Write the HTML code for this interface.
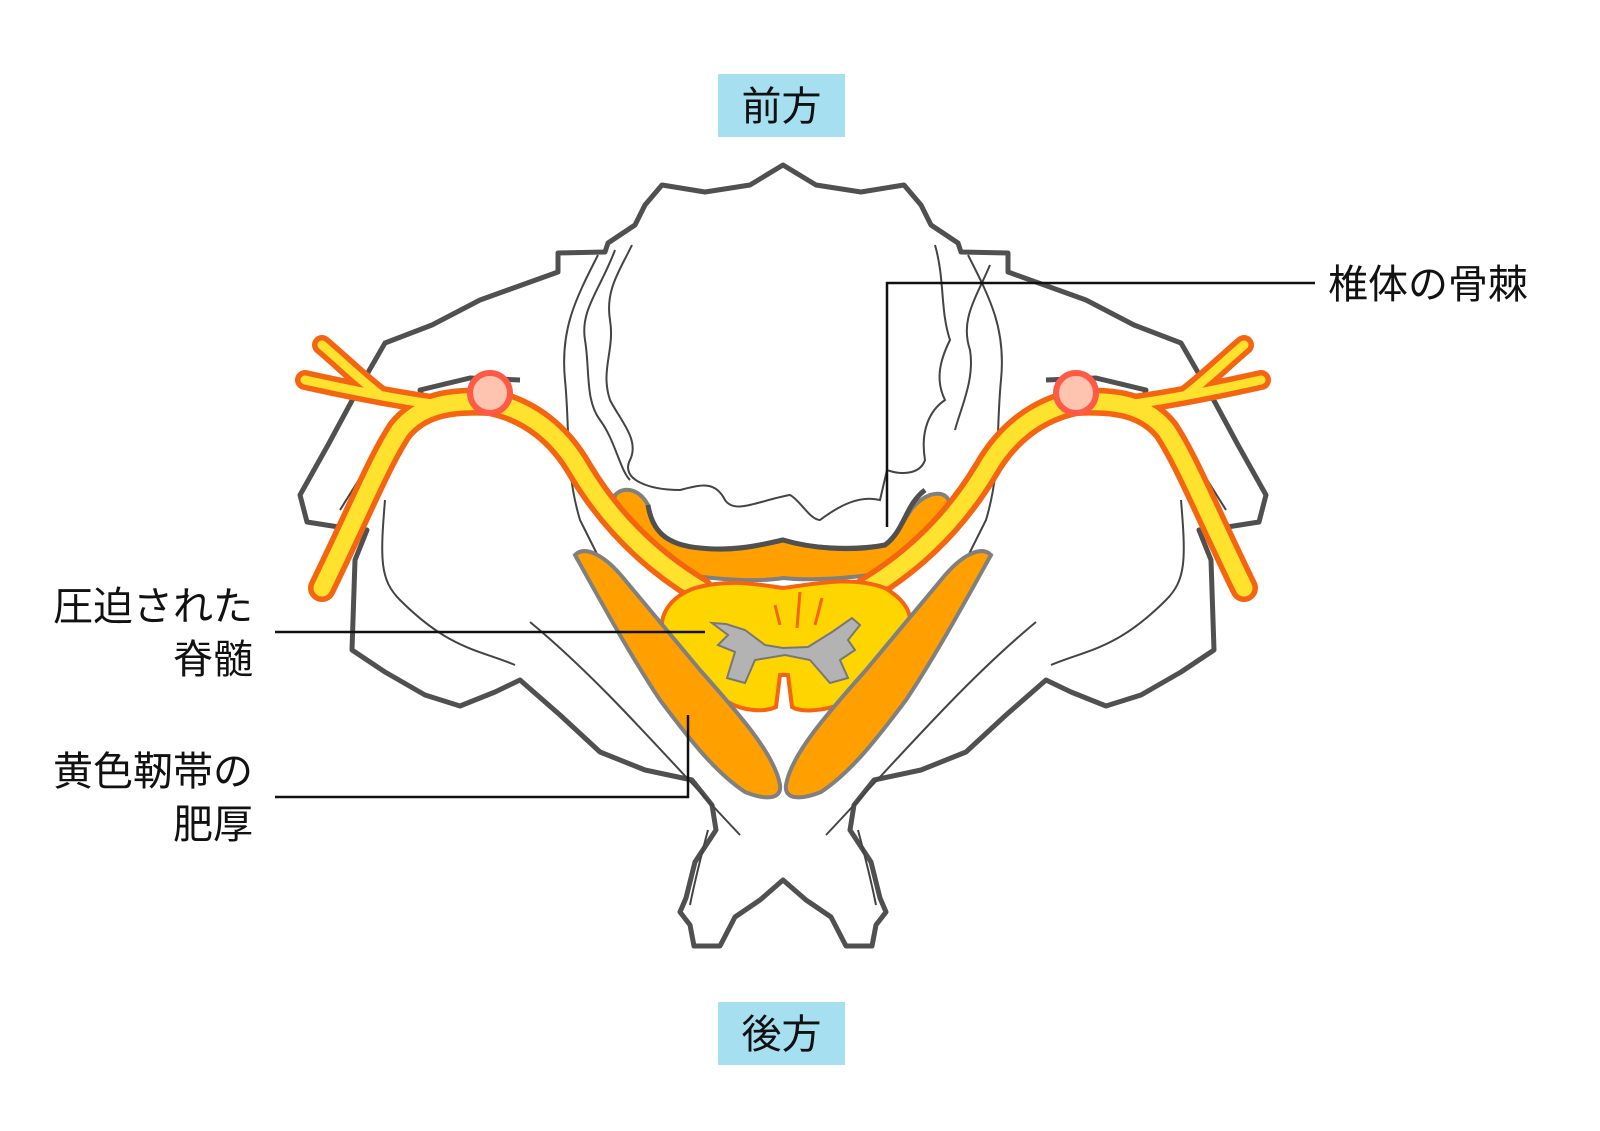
<!DOCTYPE html>
<html><head><meta charset="utf-8"><style>
html,body{margin:0;padding:0;background:#fff}
svg{display:block}
text{font-family:"Liberation Sans","Noto Sans CJK JP",sans-serif;fill:#111}
</style></head><body>
<svg width="1600" height="1131" viewBox="0 0 1600 1131" xmlns="http://www.w3.org/2000/svg">
<rect x="718" y="74" width="127" height="63" fill="#a6dff0"/>
<text x="781.5" y="120" font-size="40" text-anchor="middle">前方</text>
<rect x="718" y="1002" width="127" height="63" fill="#a6dff0"/>
<text x="781.5" y="1048" font-size="40" text-anchor="middle">後方</text>

<path d="M783,165 L750,185 L705,192 L662,185 L645,205 L635,225 L608,243 L605,252 L558,253 L558,272 L480,300 L432,325 L385,343 L355,395 L328,445 L300,495 L307,522 L345,528 L367,530 L355,560 L352,650 L385,672 L425,695 L460,706 L495,692 L520,680 L560,715 L600,752 L645,770 L692,780 L712,805 L716,830 L695,862 L686,898 L680,912 L690,925 L694,946 L720,946 L735,917 L760,900 L783,880 L806,900 L831,917 L846,946 L872,946 L876,925 L886,912 L880,898 L871,862 L850,830 L854,805 L874,780 L921,770 L966,752 L1006,715 L1046,680 L1071,692 L1106,706 L1141,695 L1181,672 L1214,650 L1211,560 L1199,530 L1221,528 L1259,522 L1266,495 L1238,445 L1211,395 L1181,343 L1134,325 L1086,300 L1008,272 L1008,253 L961,252 L958,243 L931,225 L921,205 L904,185 L861,192 L816,185 Z" fill="#fff" stroke="#505050" stroke-width="5" stroke-linejoin="round"/>
<path d="M520,380 L470,378 L420,390 L425,405 L460,410 L520,410" fill="none" stroke="#505050" stroke-width="5" stroke-linejoin="round"/>
<path d="M1046,380 L1096,378 L1146,390 L1141,405 L1106,410 L1046,410" fill="none" stroke="#505050" stroke-width="5" stroke-linejoin="round"/>
<g fill="none" stroke="#444" stroke-width="2">
<path d="M598,255 C575,300 560,330 565,380 C570,430 565,470 580,520 L600,560"/>
<path d="M968,255 C991,300 1006,330 1001,380 C996,430 1001,470 986,520 L966,560"/>
<path d="M385,500 C380,560 380,580 400,600 C450,650 480,650 515,665"/>
<path d="M1181,500 C1186,560 1186,580 1166,600 C1116,650 1086,650 1051,665"/>
<path d="M530,622 C600,680 660,750 740,835"/>
<path d="M1036,622 C966,680 906,750 826,835"/>
<path d="M708,830 C700,860 695,880 690,905"/>
<path d="M858,830 C866,860 871,880 876,905"/>
<path d="M365,470 L340,510"/>
<path d="M1201,470 L1226,510"/>
<path d="M632,245 C620,270 605,290 610,320 C615,350 600,370 610,400 C620,420 640,440 630,460 C620,480 650,490 680,490 C700,485 715,480 725,500 C735,515 760,500 790,495 C800,500 810,520 820,520 C840,505 860,495 880,500 L887,470 C900,475 920,475 925,460 C920,430 930,410 945,400 C935,380 940,360 950,340 C940,310 945,280 935,245"/>
<path d="M615,250 C600,290 580,310 585,340 C590,370 585,400 600,420 C615,440 620,470 630,480"/>
<path d="M990,265 C975,300 960,320 970,350 C975,380 960,410 955,430"/>
</g>

<path d="M615,495 C625,485 640,490 648,505 C652,530 665,545 700,548 C735,550 760,545 783,540 C810,548 850,550 885,545 C905,530 905,505 930,495 C945,490 955,500 945,515 C930,545 910,570 870,575 C830,580 800,580 783,578 C760,582 720,580 690,575 C655,565 620,540 612,515 Z" fill="#ffa000" stroke="#808080" stroke-width="4"/>
<path d="M648,505 C652,530 665,545 700,548 C735,552 760,545 783,540 C810,548 850,552 885,545 C905,530 905,505 925,490" fill="none" stroke="#505050" stroke-width="5"/>

<g fill="none" stroke-linecap="round" stroke-linejoin="round">
<path d="M700,590 C650,560 610,520 580,470 C560,435 530,410 490,402 C450,400 420,405 400,430 C380,460 360,510 322,588" stroke="#f56410" stroke-width="28"/>
<path d="M440,405 C400,400 350,390 305,380 M380,395 C360,380 340,360 322,345" stroke="#f56410" stroke-width="20"/>
<path d="M690,580 C660,560 630,530 600,500" stroke="#f56410" stroke-width="16"/>
<path d="M700,590 C650,560 610,520 580,470 C560,435 530,410 490,402 C450,400 420,405 400,430 C380,460 360,510 322,588" stroke="#ffe22e" stroke-width="17"/>
<path d="M440,405 C400,400 350,390 305,380 M380,395 C360,380 340,360 322,345" stroke="#ffe22e" stroke-width="9"/>
<circle cx="490" cy="393" r="20" fill="#ffc4b0" stroke="#ff5a45" stroke-width="6"/>
</g>
<g transform="translate(1566,0) scale(-1,1)" fill="none" stroke-linecap="round" stroke-linejoin="round">
<path d="M700,590 C650,560 610,520 580,470 C560,435 530,410 490,402 C450,400 420,405 400,430 C380,460 360,510 322,588" stroke="#f56410" stroke-width="28"/>
<path d="M440,405 C400,400 350,390 305,380 M380,395 C360,380 340,360 322,345" stroke="#f56410" stroke-width="20"/>
<path d="M690,580 C660,560 630,530 600,500" stroke="#f56410" stroke-width="16"/>
<path d="M700,590 C650,560 610,520 580,470 C560,435 530,410 490,402 C450,400 420,405 400,430 C380,460 360,510 322,588" stroke="#ffe22e" stroke-width="17"/>
<path d="M440,405 C400,400 350,390 305,380 M380,395 C360,380 340,360 322,345" stroke="#ffe22e" stroke-width="9"/>
<circle cx="490" cy="393" r="20" fill="#ffc4b0" stroke="#ff5a45" stroke-width="6"/>
</g>

<path d="M695,588 C730,578 760,585 783,588 C810,585 850,575 885,588 C905,600 915,615 908,632 C893,662 872,692 842,704 C820,712 800,712 792,707 L788,675 L780,675 L776,707 C765,712 745,712 728,702 C703,690 678,660 663,635 C658,615 670,597 695,588 Z" fill="#ffd500" stroke="#f56410" stroke-width="4"/>
<g stroke="#f56410" stroke-width="3" fill="none"><path d="M775,605 L780,625"/><path d="M800,592 L797,628"/><path d="M822,598 L815,625"/></g>
<path d="M726,624 L712,623 L728,635 L718,645 L735,652 L727,678 L745,683 L755,660 L785,655 L810,660 L830,683 L848,678 L840,660 L855,650 L848,640 L860,625 L852,618 L832,632 L808,647 L783,648 L765,645 L745,630 Z" fill="#b3b3b3" stroke="#777" stroke-width="2"/>

<path d="M575,555 C585,545 605,555 625,580 L700,670 C740,715 775,755 780,785 C782,800 765,800 745,792 C715,772 690,740 660,700 C630,655 600,600 575,555 Z" fill="#ffa000" stroke="#808080" stroke-width="4"/>
<path d="M991,555 C981,545 961,555 941,580 L866,670 C826,715 791,755 786,785 C784,800 801,800 821,792 C851,772 876,740 906,700 C936,655 966,600 991,555 Z" fill="#ffa000" stroke="#808080" stroke-width="4"/>

<g stroke="#111" stroke-width="2.5" fill="none">
<path d="M1315,283 L887,283 L887,527"/>
<path d="M275,632 L705,632"/>
<path d="M275,797 L688,797 L688,715"/>
</g>
<text x="1328" y="298" font-size="40">椎体の骨棘</text>
<text x="253" y="620" font-size="40" text-anchor="end">圧迫された</text>
<text x="253" y="673" font-size="40" text-anchor="end">脊髄</text>
<text x="253" y="785" font-size="40" text-anchor="end">黄色靭帯の</text>
<text x="253" y="838" font-size="40" text-anchor="end">肥厚</text>
</svg>
</body></html>
